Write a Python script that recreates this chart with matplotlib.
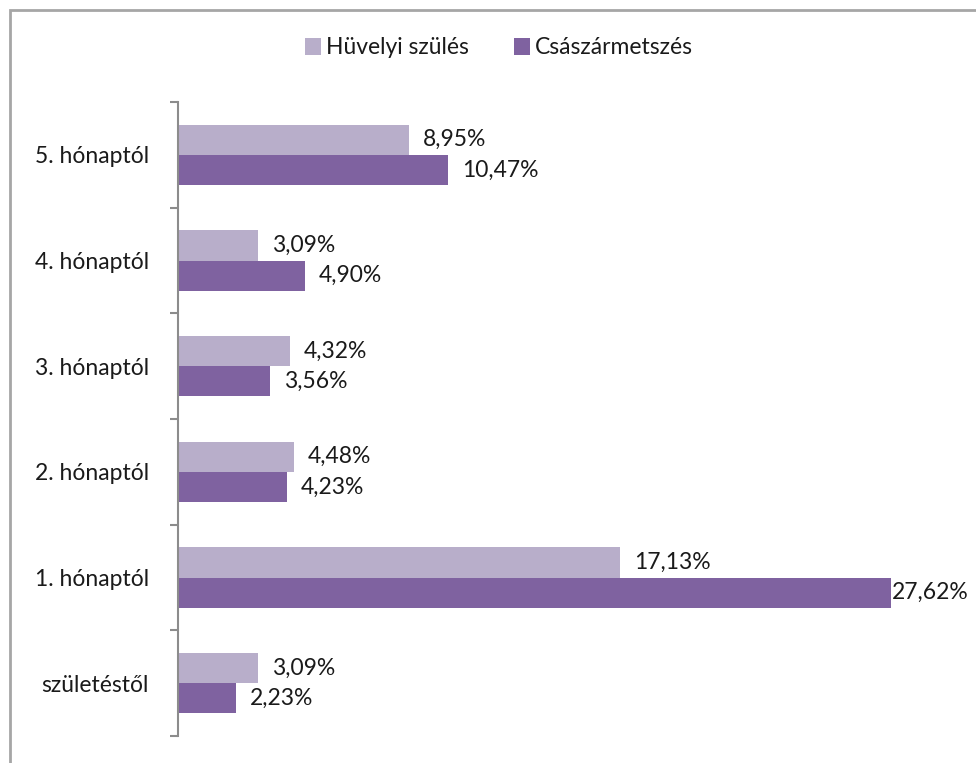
import matplotlib.pyplot as plt
import matplotlib.patches as mpatches
import numpy as np

# categories from bottom to top
categories = ["születéstől", "1. hónaptól", "2. hónaptól", "3. hónaptól", "4. hónaptól", "5. hónaptól"]
huvelyi = [3.09, 17.13, 4.48, 4.32, 3.09, 8.95]
csaszar = [2.23, 27.62, 4.23, 3.56, 4.90, 10.47]
series_names = ["Hüvelyi szülés", "Császármetszés"]

light = "#B8AECA"
dark = "#7F62A0"
txt = "#1a1a1a"
fs = 16.5

plt.rcParams['font.family'] = ['Lato', 'DejaVu Sans']

fig = plt.figure(figsize=(9.76, 7.63), dpi=100)
ax = fig.add_axes([178 / 976, 1 - 736 / 763, 1 - 178 / 976, (736 - 102) / 763])

y = np.arange(len(categories))
h = 0.285
ax.barh(y + h / 2, huvelyi, height=h, color=light, label=series_names[0])
ax.barh(y - h / 2, csaszar, height=h, color=dark, label=series_names[1])

xmax = (976 - 178) / 25.82
ax.set_xlim(0, xmax)
ax.set_ylim(-0.5, len(categories) - 0.5)

def fmt(v):
    return f"{v:.2f}".replace(".", ",") + "%"

for yy, v in zip(y + h / 2, huvelyi):
    ax.annotate(fmt(v), (v, yy), xytext=(10, 0), textcoords="offset points",
                va="center", ha="left", fontsize=fs, color=txt, annotation_clip=False)
for yy, v in zip(y - h / 2, csaszar):
    off = 10 if v < 25 else 0.5
    ax.annotate(fmt(v), (v, yy), xytext=(off, 0), textcoords="offset points",
                va="center", ha="left", fontsize=fs, color=txt, annotation_clip=False)

for s in ["top", "right", "bottom"]:
    ax.spines[s].set_visible(False)
ax.spines["left"].set_color("#8c8c8c")
ax.spines["left"].set_linewidth(1.5)
ax.set_xticks([])
ax.set_yticks(y)
ax.set_yticklabels(categories, fontsize=fs, color=txt)
ax.tick_params(axis="y", which="major", length=0, pad=21)
ax.set_yticks(np.arange(-0.5, len(categories), 1), minor=True)
ax.tick_params(axis="y", which="minor", length=6, width=1.5, color="#8c8c8c", direction="out")

# outer chart border (cut off on the right and bottom)
fig.patches.append(mpatches.Rectangle((10 / 976, -0.1), 1.2, 1 - 10 / 763 + 0.1,
                                      transform=fig.transFigure, fill=False,
                                      edgecolor="#a6a6a6", linewidth=2))

fig.legend(loc="center", bbox_to_anchor=(499 / 976, 1 - 48 / 763), ncol=2, frameon=False,
           fontsize=fs, handlelength=0.7, handleheight=0.7, handletextpad=0.2,
           columnspacing=2.0, labelcolor=txt)

fig.savefig("out.png", dpi=100)
